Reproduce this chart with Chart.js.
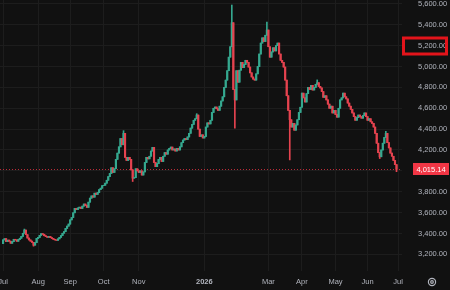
<!DOCTYPE html>
<html>
<head>
<meta charset="utf-8">
<script src="https://cdn.jsdelivr.net/npm/chart.js@4"></script>
<style>
  html, body { margin: 0; padding: 0; background: #111111; }
  #wrap { width: 450px; height: 290px; position: relative; }
</style>
</head>
<body>
<div id="wrap"><canvas id="chart"></canvas></div>
<script>
// daily closes, one row per month (Jul 2025 .. Jun 2026)
const firstOpen = 3303;
const closes = [
  3338,3350,3322,3336,3326,3306,3322,3344,3338,3325,3342,3354,3372,3402,3432,3388,3356,3338,3326,3315,3288,3312,3352, // Jul
  3362,3382,3398,3392,3378,3370,3363,3372,3360,3352,3344,3338,3334,3348,3363,3380,3402,3418,3448,3470,3490,           // Aug
  3530,3552,3598,3640,3628,3644,3652,3640,3662,3682,3668,3650,3700,3738,3760,3748,3786,3774,3792,3820,3834,3858,      // Sep
  3862,3882,3910,3945,3975,4030,3985,4020,4110,4170,4230,4310,4250,4360,4130,4100,4130,4110,4010,3930,3935,4020,4000, // Oct
  3985,4000,3960,3990,4080,4130,4115,4140,4190,4225,4080,4040,4070,4110,4130,4090,4140,4175,4160,4200,                // Nov
  4215,4228,4200,4210,4190,4215,4200,4230,4270,4295,4310,4300,4325,4360,4410,4445,4485,4500,4535,4400,4330,4345,4315, // Dec
  4330,4420,4460,4450,4485,4560,4600,4612,4595,4580,4620,4670,4710,4800,4870,4960,5090,5190,5420,4780,4680,4960,      // Jan
  4850,4965,5040,4990,5020,5060,5040,4995,4940,4900,4880,4870,4930,5000,5120,5225,5275,5240,5300,5350,                // Feb
  5190,5090,5140,5180,5150,5200,5225,5120,5060,5040,4995,4870,4720,4580,4490,4420,4455,4390,4440,4490,4560,4610,      // Mar
  4745,4700,4660,4740,4800,4780,4820,4775,4800,4830,4845,4810,4795,4760,4705,4720,4680,4640,4600,4620,4555,4580,      // Apr
  4540,4515,4600,4680,4700,4745,4710,4690,4650,4620,4590,4555,4520,4485,4510,4535,4520,4505,4530,4555,4520,           // May
  4485,4500,4470,4455,4420,4360,4265,4175,4135,4200,4265,4320,4360,4270,4220,4170,4140,4100,4060,4015.14              // Jun
];
// visible long wicks (candle index -> price)
const highs = { 14: 3442, 79: 4385, 127: 4548, 150: 5590, 173: 5427, 206: 4872, 251: 4378 };
const lows  = { 20: 3278, 85: 3898, 152: 4410, 188: 4105, 247: 4118, 258: 3992 };

const monthIdx    = [0, 23, 44, 66, 89, 132, 174, 196, 218, 239, 259];
const monthLabels = ['Jul', 'Aug', 'Sep', 'Oct', 'Nov', '2026', 'Mar', 'Apr', 'May', 'Jun', 'Jul'];
const priceTicks  = [3200, 3400, 3600, 3800, 4000, 4200, 4400, 4600, 4800, 5000, 5200, 5400, 5600];
const boxedTick   = 5200;

const UP = '#35a88f', DOWN = '#e5434f', TEXT = '#b2b5be', GRID = '#1d1d1d';
const FONT = 'Liberation Sans';

const opens  = closes.map((c, i) => i === 0 ? firstOpen : closes[i - 1]);
const colors = closes.map((c, i) => c >= opens[i] ? UP : DOWN);
const bodies = closes.map((c, i) => ({ x: i, y: [opens[i], c] }));
const wicks  = closes.map((c, i) => ({
  x: i,
  y: [lows[i] ?? Math.min(opens[i], c), highs[i] ?? Math.max(opens[i], c)]
}));

const fmt = v => v.toLocaleString('en-US', { minimumFractionDigits: 2, maximumFractionDigits: 2 });

const overlay = {
  id: 'overlay',
  beforeDatasetsDraw(chart) {
    const { ctx, chartArea, scales: { y } } = chart;
    const py = Math.round(y.getPixelForValue(closes[closes.length - 1])) + 0.5;
    ctx.save();
    ctx.strokeStyle = 'rgba(242,54,69,0.75)';
    ctx.lineWidth = 1;
    ctx.setLineDash([1, 2]);
    ctx.beginPath();
    ctx.moveTo(chartArea.left, py);
    ctx.lineTo(chartArea.right, py);
    ctx.stroke();
    ctx.restore();
  },
  afterDraw(chart) {
    const { ctx, scales: { y } } = chart;
    const last = closes[closes.length - 1];
    const py = y.getPixelForValue(last);
    ctx.save();
    // last price tag
    ctx.fillStyle = '#f23645';
    ctx.fillRect(413, Math.round(py) - 6, 36, 12);
    ctx.fillStyle = '#ffffff';
    ctx.font = '7.5px "' + FONT + '"';
    ctx.textAlign = 'center';
    ctx.textBaseline = 'middle';
    ctx.fillText(fmt(last), 431, Math.round(py) + 0.5);
    // red highlight box round one price label
    const by = y.getPixelForValue(boxedTick);
    ctx.strokeStyle = '#e3141b';
    ctx.lineWidth = 3;
    ctx.strokeRect(403.5, Math.round(by) - 8, 43, 16);
    // settings icon
    ctx.strokeStyle = TEXT;
    ctx.lineWidth = 1.2;
    ctx.beginPath();
    ctx.arc(432, 282, 3.6, 0, Math.PI * 2);
    ctx.stroke();
    ctx.beginPath();
    ctx.arc(432, 282, 1.3, 0, Math.PI * 2);
    ctx.stroke();
    ctx.restore();
  }
};

new Chart(document.getElementById('chart').getContext('2d'), {
  type: 'bar',
  data: {
    datasets: [
      { data: wicks,  backgroundColor: colors, barThickness: 1,   grouped: false, order: 2 },
      { data: bodies, backgroundColor: colors, barThickness: 1.5, grouped: false, order: 1 }
    ]
  },
  options: {
    animation: false,
    responsive: true,
    maintainAspectRatio: false,
    layout: { padding: { left: 0, right: 3, top: 0, bottom: 0 } },
    plugins: { legend: { display: false }, tooltip: { enabled: false } },
    scales: {
      x: {
        type: 'linear',
        offset: false,
        min: -2,
        max: 261.6,
        border: { display: false },
        grid: { color: GRID, drawTicks: false, offset: false },
        afterBuildTicks: s => { s.ticks = monthIdx.map(v => ({ value: v })); },
        afterFit: s => { s.height = 19; s.paddingLeft = 0; s.paddingRight = 0; },
        ticks: {
          autoSkip: false,
          maxRotation: 0,
          padding: 6,
          color: TEXT,
          font: ctx => ({ family: FONT, size: 7.5, weight: ctx.tick && ctx.tick.value === 132 ? 'bold' : 'normal' }),
          callback: (v, i) => monthLabels[i]
        }
      },
      y: {
        position: 'right',
        min: 3040,
        max: 5638,
        border: { display: false },
        grid: { color: GRID, drawTicks: false },
        afterBuildTicks: s => { s.ticks = priceTicks.map(v => ({ value: v })); },
        afterFit: s => { s.width = 45; s.paddingTop = 0; s.paddingBottom = 0; },
        ticks: {
          padding: 16,
          color: TEXT,
          font: { family: FONT, size: 7.5 },
          callback: v => fmt(v)
        }
      }
    }
  },
  plugins: [overlay]
});
</script>
</body>
</html>
